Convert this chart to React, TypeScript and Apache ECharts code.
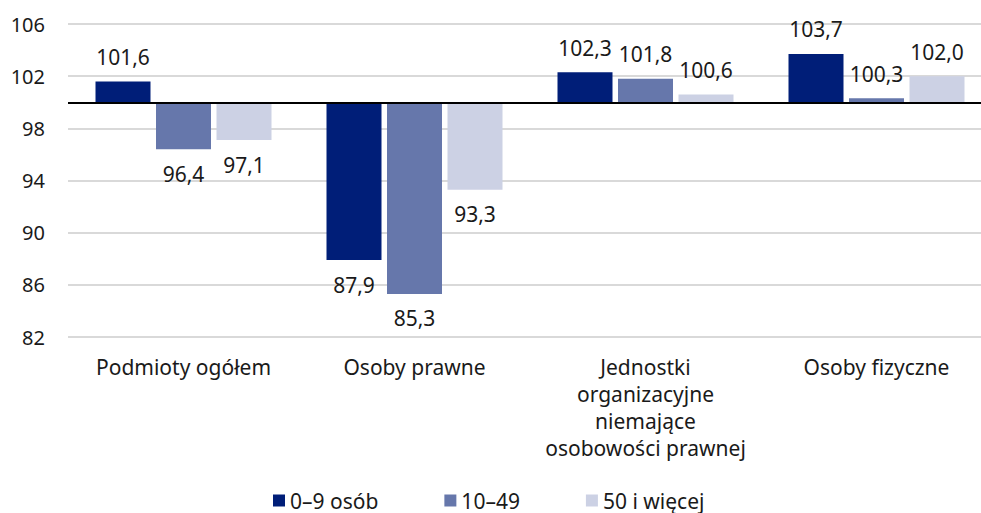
import React, { useEffect, useRef } from "react";
import * as echarts from "echarts";

const categories = [
  "Podmioty ogółem",
  "Osoby prawne",
  "Jednostki\norganizacyjne\nniemające\nosobowości prawnej",
  "Osoby fizyczne",
];
const seriesNames = ["0–9 osób", "10–49", "50 i więcej"];
const values0to9 = [101.6, 87.9, 102.3, 103.7];
const values10to49 = [96.4, 85.3, 101.8, 100.3];
const values50plus = [97.1, 93.3, 100.6, 102.0];
const yTickLabels = [82, 86, 90, 94, 98, 102, 106];

const BASE = 100;
const AXIS_MIN = yTickLabels[0];
const AXIS_MAX = yTickLabels[yTickLabels.length - 1];
const colors = ["#001e78", "#6677ab", "#ccd1e4"];
const FONT = "Noto Sans";
const TEXT = "#1a1a1a";
const FS = 21;

export default function App() {
  const ref = useRef<HTMLDivElement>(null);
  useEffect(() => {
    if (!ref.current) return;
    const chart = echarts.init(ref.current, null, { renderer: "svg" });
    const all = [values0to9, values10to49, values50plus];
    const series: any[] = [];
    all.forEach((vals, si) => {
      series.push({
        name: "base" + si,
        type: "bar",
        stack: "s" + si,
        barWidth: 55,
        barGap: "10%",
        silent: true,
        itemStyle: { color: "transparent" },
        data: vals.map((v) => Math.min(v, BASE) - AXIS_MIN),
      });
      series.push({
        name: seriesNames[si],
        type: "bar",
        stack: "s" + si,
        barWidth: 55,
        barGap: "10%",
        itemStyle: { color: colors[si] },
        data: vals.map((v) => ({
          value: Math.abs(v - BASE),
          label: { position: v >= BASE ? "top" : "bottom" },
        })),
        label: {
          show: true,
          distance: 14,
          fontFamily: FONT,
          fontSize: FS,
          color: TEXT,
          formatter: (p: any) => vals[p.dataIndex].toFixed(1).replace(".", ","),
        },
        markLine:
          si === 2
            ? {
                silent: true,
                symbol: "none",
                label: { show: false },
                lineStyle: { color: "#000", width: 2, type: "solid" },
                data: [{ yAxis: BASE - AXIS_MIN }],
              }
            : undefined,
      });
    });
    chart.setOption({
      animation: false,
      color: colors,
      grid: { left: 68, top: 24, bottom: 176, right: 0, containLabel: false },
      legend: {
        data: seriesNames,
        icon: "rect",
        itemWidth: 12,
        itemHeight: 12,
        itemGap: 66,
        left: 268,
        top: 485,
        textStyle: { fontFamily: FONT, fontSize: FS, color: TEXT },
      },
      xAxis: {
        type: "category",
        data: categories,
        axisLine: { show: false },
        axisTick: { show: false },
        axisLabel: {
          margin: 16,
          fontFamily: FONT,
          fontSize: FS,
          lineHeight: 27,
          color: TEXT,
          interval: 0,
        },
      },
      yAxis: {
        type: "value",
        min: 0,
        max: AXIS_MAX - AXIS_MIN,
        interval: 4,
        axisLine: { show: false },
        axisTick: { show: false },
        splitLine: { lineStyle: { color: "#d9d9d9", width: 2 } },
        axisLabel: {
          margin: 23,
          fontFamily: FONT,
          fontSize: 20,
          color: TEXT,
          formatter: (v: number) => String(v + AXIS_MIN),
        },
      },
      series,
    });
    return () => chart.dispose();
  }, []);
  return (
    <div style={{ width: 981, height: 513, position: "absolute", left: 0, top: 0, overflow: "hidden" }}>
      <div ref={ref} style={{ width: 992, height: 513 }} />
    </div>
  );
}
